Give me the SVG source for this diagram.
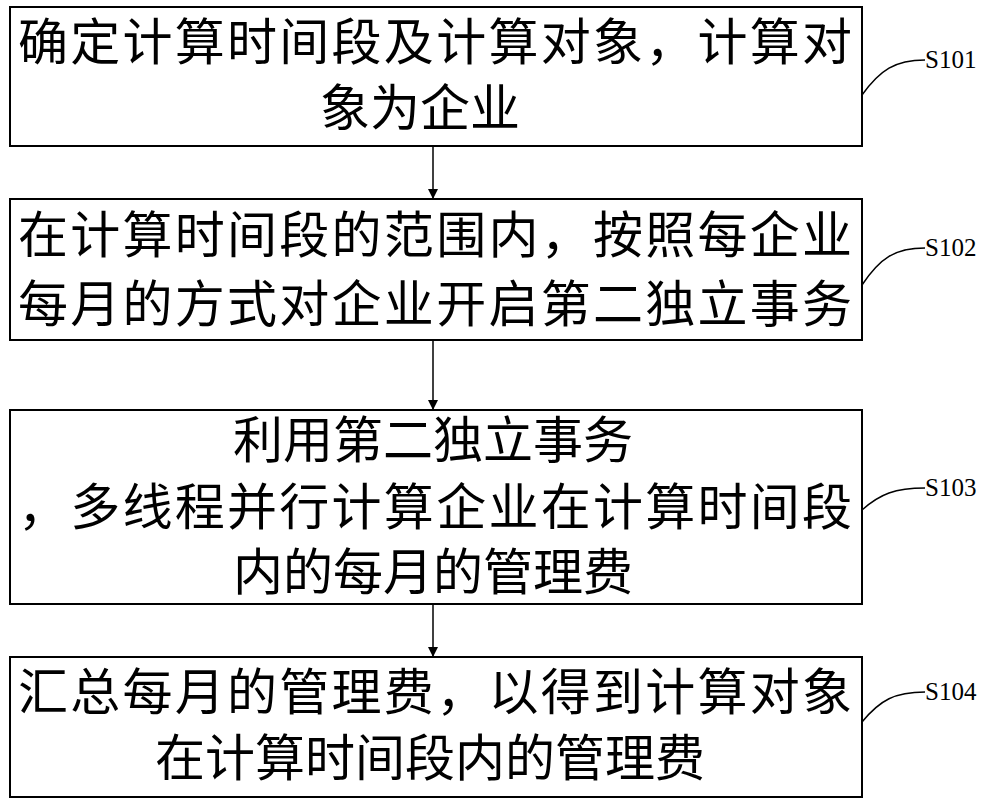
<svg xmlns="http://www.w3.org/2000/svg" width="1000" height="806" viewBox="0 0 1000 806">
<style>
.box{fill:#fff;stroke:#000;stroke-width:2}
.t{font-family:"Noto Sans CJK SC",sans-serif;font-size:50px;fill:#000}
.l{font-family:"Liberation Serif",serif;font-size:25px;fill:#000}
.c{fill:none;stroke:#000;stroke-width:1.5}
</style>
<defs><marker id="a" markerWidth="10" markerHeight="10" refX="9" refY="5" orient="auto" markerUnits="userSpaceOnUse"><path d="M0,0L10,5L0,10z"/></marker></defs>
<rect width="1000" height="806" fill="#fff"/>
<g id="n1"><rect class="box" x="10" y="7" width="852" height="139"/>
<text class="t" x="18" y="60" textLength="834">确定计算时间段及计算对象，计算对</text>
<text class="t" x="420" y="126" text-anchor="middle">象为企业</text></g>
<g id="n2"><rect class="box" x="10" y="199" width="852" height="141"/>
<text class="t" x="18" y="253" textLength="834">在计算时间段的范围内，按照每企业</text>
<text class="t" x="18" y="322" textLength="834">每月的方式对企业开启第二独立事务</text></g>
<g id="n3"><rect class="box" x="10" y="410" width="852" height="194"/>
<text class="t" x="433" y="458" text-anchor="middle">利用第二独立事务</text>
<text class="t" x="18" y="525" textLength="834">，多线程并行计算企业在计算时间段</text>
<text class="t" x="433" y="590" text-anchor="middle">内的每月的管理费</text></g>
<g id="n4"><rect class="box" x="10" y="657" width="852" height="140"/>
<text class="t" x="18" y="710" textLength="834">汇总每月的管理费，以得到计算对象</text>
<text class="t" x="430" y="776" text-anchor="middle">在计算时间段内的管理费</text></g>
<g id="connectors">
<line class="c" x1="433" y1="146" x2="433" y2="198" marker-end="url(#a)"/>
<line class="c" x1="433" y1="340" x2="433" y2="409" marker-end="url(#a)"/>
<line class="c" x1="433" y1="604" x2="433" y2="656" marker-end="url(#a)"/>
<path class="c" d="M862,95 C880,70 895,60 925,60"/>
<path class="c" d="M862,285 C880,258 895,248 925,248"/>
<path class="c" d="M862,510 C880,494 895,488 925,488"/>
<path class="c" d="M862,722 C880,700 895,692 925,692"/>
</g>
<text class="l" x="925" y="68">S101</text>
<text class="l" x="925" y="256">S102</text>
<text class="l" x="925" y="496">S103</text>
<text class="l" x="925" y="700">S104</text>
</svg>
